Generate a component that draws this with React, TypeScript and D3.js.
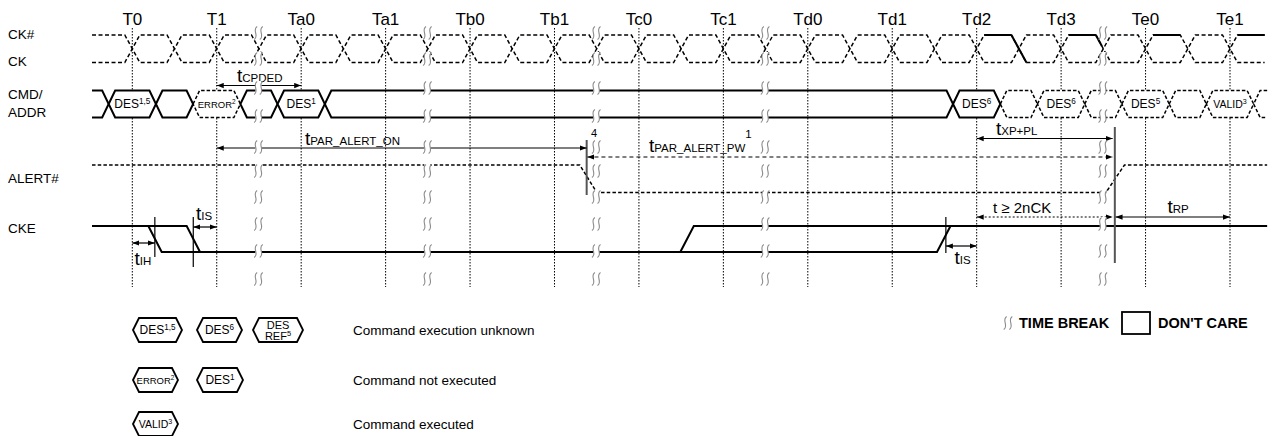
import React from "react";
import * as d3 from "d3";

// ---------------- data ----------------
const timeLabels = ["T0", "T1", "Ta0", "Ta1", "Tb0", "Tb1", "Tc0", "Tc1", "Td0", "Td1", "Td2", "Td3", "Te0", "Te1"];
const timeBreaks = [1.5, 3.5, 5.5, 7.5, 11.5];
const signalNames = ["CK#", "CK", "CMD/", "ADDR", "ALERT#", "CKE"];
const clockEdges = d3.range(0, 13.01, 0.5);
const ckSolidHigh = [10, 11, 12, 13];
const ckSolidFall = [{ t: 10.5, frac: 1 }, { t: 11.5, frac: 0.4 }];

type Cell = { t0: number; t1: number; dashed: boolean; label?: string; sup?: string; kind?: string; open?: string };
const cmdCells: Cell[] = [
  { t0: -0.477, t1: -0.28, dashed: false, open: "left" },
  { t0: -0.28, t1: 0.28, dashed: false, label: "DES", sup: "1,5" },
  { t0: 0.28, t1: 0.72, dashed: false },
  { t0: 0.72, t1: 1.28, dashed: true, label: "ERROR", sup: "2", kind: "small" },
  { t0: 1.28, t1: 1.72, dashed: false },
  { t0: 1.72, t1: 2.28, dashed: false, label: "DES", sup: "1" },
  { t0: 2.28, t1: 9.72, dashed: false },
  { t0: 9.72, t1: 10.28, dashed: false, label: "DES", sup: "6" },
  { t0: 10.28, t1: 10.72, dashed: true },
  { t0: 10.72, t1: 11.28, dashed: true, label: "DES", sup: "6" },
  { t0: 11.28, t1: 11.72, dashed: true },
  { t0: 11.72, t1: 12.28, dashed: true, label: "DES", sup: "5" },
  { t0: 12.28, t1: 12.72, dashed: true },
  { t0: 12.72, t1: 13.28, dashed: true, label: "VALID", sup: "3", kind: "mid" },
  { t0: 13.28, t1: 13.44, dashed: true, open: "right" },
];

// [time, level]
const alertPoints: [number, number][] = [[-0.477, 1], [5.3, 1], [5.5, 0], [11.53, 0], [11.75, 1], [13.44, 1]];
const ckeWave: [number, number][][] = [
  [[-0.477, 1], [0.644, 1], [0.802, 0]],
  [[0.19, 1], [0.348, 0], [9.53, 0], [9.69, 1]],
  [[6.49, 0], [6.65, 1], [13.44, 1]],
];
const ckeMarkTimes = [0.267, 0.722, 9.635];
const boundaryTimes = [5.381, 11.636];

const timingArrows = [
  { key: "cpded", from: 1, to: 2 },
  { key: "alertOn", from: 1, to: 5.381 },
  { key: "alertPw", from: 5.39, to: 11.61 },
  { key: "xppl", from: 10, to: 11.61 },
  { key: "nck", from: 10, to: 11.61 },
  { key: "rp", from: 11.645, to: 13 },
  { key: "ih", from: 0, to: 0.267 },
  { key: "is1", from: 0.722, to: 1 },
  { key: "is2", from: 9.635, to: 10 },
];

const legendRows = [
  { text: "Command execution unknown", items: [{ label: "DES", sup: "1,5" }, { label: "DES", sup: "6" }, { label: "DES", line2: "REF", sup: "5" }] },
  { text: "Command not executed", items: [{ label: "ERROR", sup: "2" }, { label: "DES", sup: "1" }] },
  { text: "Command executed", items: [{ label: "VALID", sup: "3" }] },
];

// ---------------- layout ----------------
const FONT = "'Liberation Sans', Arial, Helvetica, sans-serif";
const Y = { ckHi: 35, ckLo: 62.5, cmdTop: 90.5, cmdBot: 117.5, alertHi: 165, alertLo: 192.5, ckeHi: 226, ckeLo: 252 };
const nameY = [39, 66, 99, 117, 183, 233];
const breakRows = [33, 59, 88, 116, 147, 171, 197, 224, 251, 279];
const arrowLayout: Record<string, { y: number; dash?: string }> = {
  cpded: { y: 85.5 },
  alertOn: { y: 148 },
  alertPw: { y: 157, dash: "4,3" },
  xppl: { y: 138.5 },
  nck: { y: 217, dash: "2,2" },
  rp: { y: 217 },
  ih: { y: 243 },
  is1: { y: 227 },
  is2: { y: 246 },
};
const ckeMarkSpans = [[217, 257], [217, 267], [217, 253]];
const boundarySpans = [[140, 195], [127, 263]];
const legendRowY = [330, 380, 424];
const legendSlots = [133, 197, 253];
const legendWidths = [[49, 45, 50], [45, 46], [45]];

function Squiggle({ cx, cy }: { cx: number; cy: number }) {
  const s = (ox: number) =>
    `M${cx + ox + 1.5},${cy - 6.5} C${cx + ox - 4},${cy - 3} ${cx + ox + 4},${cy + 3} ${cx + ox - 1.5},${cy + 6.5}`;
  return (
    <g>
      <rect x={cx - 3} y={cy - 7} width={6} height={14} fill="#fff" />
      <path d={s(-2.8)} fill="none" stroke="#8c8c8c" strokeWidth={1.1} />
      <path d={s(2.8)} fill="none" stroke="#8c8c8c" strokeWidth={1.1} />
    </g>
  );
}

function TLabel({ x, y, sub, sup, size = 19, subSize = 11.5, subDy = 0, supDy = -13 }: any) {
  return (
    <text x={x} y={y} fontSize={size} fontFamily={FONT} fill="#000">
      t<tspan fontSize={subSize} dy={subDy}>{sub}</tspan>
      {sup ? <tspan fontSize={subSize} dy={supDy}>{sup}</tspan> : null}
    </text>
  );
}

function hexPath(xl: number, xr: number, top: number, bot: number, d: number, open?: string) {
  const m = (top + bot) / 2;
  if (open === "left") return `M${xl},${top}L${xr - d},${top}L${xr},${m}L${xr - d},${bot}L${xl},${bot}`;
  if (open === "right") return `M${xr},${top}L${xl + d},${top}L${xl},${m}L${xl + d},${bot}L${xr},${bot}`;
  return `M${xl},${m}L${xl + d},${top}L${xr - d},${top}L${xr},${m}L${xr - d},${bot}L${xl + d},${bot}Z`;
}

export default function App() {
  const x = d3.scaleLinear().domain([0, 13]).range([132.3, 1230]);
  const w = 7.5;
  const yLvl = (v: number, hi: number, lo: number) => (v ? hi : lo);

  const clockPath = (startHigh: boolean) => {
    let lvl = startHigh;
    const yy = (h: boolean) => (h ? Y.ckHi : Y.ckLo);
    let p = `M${x(-0.477)},${yy(lvl)}`;
    for (const c of clockEdges) {
      p += `L${x(c) - w},${yy(lvl)}`;
      lvl = !lvl;
      p += `L${x(c) + w},${yy(lvl)}`;
    }
    p += `L${x(13.41)},${yy(lvl)}`;
    return p;
  };

  const alertLine = d3.line<[number, number]>().x((d) => x(d[0])).y((d) => yLvl(d[1], Y.alertHi, Y.alertLo));
  const ckeLine = d3.line<[number, number]>().x((d) => x(d[0])).y((d) => yLvl(d[1], Y.ckeHi, Y.ckeLo));

  return (
    <svg width={1271} height={436} style={{ position: "absolute", left: 0, top: 0, background: "#fff" }} fontFamily={FONT}>
      <defs>
        <marker id="ah" viewBox="0 0 8 6" refX={8} refY={3} markerWidth={7} markerHeight={6} markerUnits="userSpaceOnUse" orient="auto-start-reverse">
          <path d="M0,0 L8,3 L0,6 Z" fill="#000" />
        </marker>
      </defs>
      <rect width={1271} height={436} fill="#fff" />

      {/* time labels */}
      {timeLabels.map((t, i) => (
        <text key={t} x={x(i)} y={25} fontSize={17} textAnchor="middle" fill="#000">{t}</text>
      ))}
      {/* dotted verticals */}
      {timeLabels.map((t, i) => (
        <line key={"v" + t} x1={x(i)} x2={x(i)} y1={28} y2={287} stroke="#000" strokeWidth={1} strokeDasharray="1.5,1.5" />
      ))}

      {/* signal names */}
      {signalNames.map((s, i) => (
        <text key={s} x={8} y={nameY[i]} fontSize={13.5} fill="#000">{s}</text>
      ))}

      {/* clock */}
      <path d={clockPath(true)} fill="none" stroke="#000" strokeWidth={1.5} strokeDasharray="4,2.5" />
      <path d={clockPath(false)} fill="none" stroke="#000" strokeWidth={1.5} strokeDasharray="4,2.5" />
      {ckSolidHigh.map((t) => (
        <line key={"sh" + t} x1={x(t) + w} x2={Math.min(x(t + 0.5) - w, 1271)} y1={Y.ckHi} y2={Y.ckHi} stroke="#000" strokeWidth={2} />
      ))}
      {ckSolidFall.map((f) => (
        <line key={"sf" + f.t} x1={x(f.t) - w} y1={Y.ckHi} x2={x(f.t) - w + 2 * w * f.frac} y2={Y.ckHi + (Y.ckLo - Y.ckHi) * f.frac} stroke="#000" strokeWidth={2} />
      ))}

      {/* CMD/ADDR bus */}
      {cmdCells.map((c, i) => (
        <path key={"c" + i} d={hexPath(x(c.t0), x(c.t1), Y.cmdTop, Y.cmdBot, 6.5, c.open)}
          fill={c.label ? "#fff" : "none"} stroke="#000" strokeWidth={c.dashed ? 1.5 : 2}
          strokeDasharray={c.dashed ? "3.5,2" : undefined} strokeLinejoin="miter" />
      ))}
      {cmdCells.filter((c) => c.label).map((c, i) => {
        const fs = c.kind === "small" ? 9.5 : c.kind === "mid" ? 10.5 : 12;
        return (
          <text key={"cl" + i} x={x((c.t0 + c.t1) / 2)} y={108} fontSize={fs} textAnchor="middle" fill="#000">
            {c.label}<tspan fontSize={fs * 0.68} dy={-4.5}>{c.sup}</tspan>
          </text>
        );
      })}

      {/* ALERT# */}
      <path d={alertLine(alertPoints) || ""} fill="none" stroke="#000" strokeWidth={1.5} strokeDasharray="3.5,2.2" />

      {/* CKE */}
      {ckeWave.map((seg, i) => (
        <path key={"k" + i} d={ckeLine(seg) || ""} fill="none" stroke="#000" strokeWidth={2} />
      ))}
      {ckeMarkTimes.map((t, i) => (
        <line key={"m" + i} x1={x(t)} x2={x(t)} y1={ckeMarkSpans[i][0]} y2={ckeMarkSpans[i][1]} stroke="#000" strokeWidth={1.2} />
      ))}

      {/* boundary lines */}
      {boundaryTimes.map((t, i) => (
        <line key={"b" + i} x1={x(t)} x2={x(t)} y1={boundarySpans[i][0]} y2={boundarySpans[i][1]} stroke="#555" strokeWidth={2} />
      ))}

      {/* timing arrows */}
      {timingArrows.map((a) => {
        const l = arrowLayout[a.key];
        return (
          <line key={a.key} x1={x(a.from)} x2={x(a.to)} y1={l.y} y2={l.y} stroke="#000" strokeWidth={1.2}
            strokeDasharray={l.dash} markerStart="url(#ah)" markerEnd="url(#ah)" />
        );
      })}

      {/* timing labels */}
      <TLabel x={237} y={82} sub="CPDED" />
      <TLabel x={305} y={145} sub="PAR_ALERT_ON" />
      <TLabel x={649} y={152} sub="PAR_ALERT_PW" sup="1" supDy={-14} />
      <text x={591} y={137} fontSize={11} fill="#000">4</text>
      <TLabel x={996} y={135} sub="XP+PL" />
      <TLabel x={196} y={220} sub="IS" />
      <TLabel x={134.5} y={265} sub="IH" />
      <TLabel x={954.5} y={264} sub="IS" />
      <text x={993} y={213} fontSize={15} fill="#000">t ≥ 2nCK</text>
      <TLabel x={1167.5} y={213} sub="RP" />

      {/* time breaks */}
      {timeBreaks.map((b) =>
        breakRows.map((r) => <Squiggle key={b + "-" + r} cx={(x(b - 0.5) + x(b + 0.5)) / 2 - 0.5} cy={r} />)
      )}

      {/* legend */}
      {legendRows.map((row, ri) => (
        <g key={"lr" + ri}>
          {row.items.map((it: any, ii) => {
            const xl = legendSlots[ii];
            const xr = xl + legendWidths[ri][ii];
            const cy = legendRowY[ri];
            const fs = it.label === "ERROR" ? 9.5 : it.label === "VALID" ? 10.5 : 12;
            return (
              <g key={"li" + ii}>
                <path d={hexPath(xl, xr, cy - 12, cy + 12, 6)} fill="#fff" stroke="#000" strokeWidth={1.8} />
                {it.line2 ? (
                  <>
                    <text x={(xl + xr) / 2} y={cy - 1} fontSize={11} textAnchor="middle">{it.label}</text>
                    <text x={(xl + xr) / 2} y={cy + 10} fontSize={11} textAnchor="middle">{it.line2}<tspan fontSize={7.5} dy={-4}>{it.sup}</tspan></text>
                  </>
                ) : (
                  <text x={(xl + xr) / 2} y={cy + 4} fontSize={fs} textAnchor="middle">
                    {it.label}<tspan fontSize={fs * 0.68} dy={-4.5}>{it.sup}</tspan>
                  </text>
                )}
              </g>
            );
          })}
          <text x={353} y={legendRowY[ri] + 5} fontSize={13.5} fill="#000">{row.text}</text>
        </g>
      ))}

      <Squiggle cx={1008} cy={323} />
      <text x={1019} y={328} fontSize={14.5} fontWeight="bold" fill="#000">TIME BREAK</text>
      <rect x={1122} y={312} width={28} height={22} fill="#fff" stroke="#000" strokeWidth={1.8} />
      <text x={1158} y={328} fontSize={14.5} fontWeight="bold" fill="#000">DON'T CARE</text>
    </svg>
  );
}
